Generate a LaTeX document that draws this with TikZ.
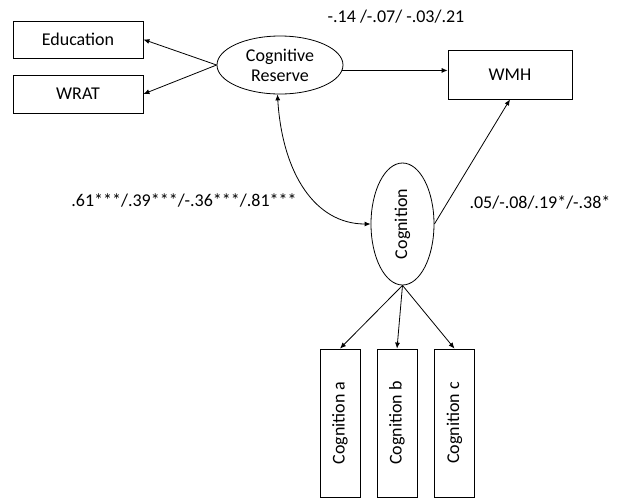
\documentclass[tikz,border=0pt]{standalone}
\usepackage{fontspec}
\setmainfont{Carlito}
\usetikzlibrary{shapes.geometric,arrows.meta}

\begin{document}
\begin{tikzpicture}[x=1pt,y=1pt,yscale=-1,xscale=1,
        every node/.style={font=\fontsize{18}{20}\selectfont},
        box/.style={draw, rectangle, line width=0.8pt, inner sep=0pt},
        latent/.style={draw, ellipse, line width=0.8pt, inner sep=0pt},
        path/.style={line width=0.8pt, -{Latex[length=6pt,width=5pt]}}]
            \useasboundingbox (0,0) rectangle (633,499);
            %Cognitive reserve and its indicators
            \node[latent, minimum width=126, minimum height=58, align=center] (cr) at (280,65) {Cognitive\\Reserve};
            \node[box, minimum width=130, minimum height=37] (edu) at (78,39.5) {Education};
            \node[box, minimum width=130, minimum height=38] (wrat) at (78,94) {WRAT};
            \draw[path] (cr.west) -- (edu.east);
            \draw[path] (cr.west) -- (wrat.east);
            %
            %Outcome
            \node[box, minimum width=124, minimum height=49] (wmh) at (510,74.5) {WMH};
            \draw[path] (cr.-5) -- (cr.-5 -| wmh.west);
            \node (crwmh) at (396,17) {-.14 /-.07/ -.03/.21};
            %
            %Cognition and its indicators
            \node[latent, minimum width=63, minimum height=122, label={[rotate=90]center:Cognition}] (cog) at (402.5,224) {};
            \draw[path] (cog.east) -- (wmh.south);
            \node (cogwmh) at (540,202) {.05/-.08/.19*/-.38*};
            \draw[path, {Latex[length=6pt,width=5pt]}-{Latex[length=6pt,width=5pt]}] (cr.265) .. controls +(5,80) and +(-55,0) .. (cog.west);
            \node (crcog) at (184,200) {.61***/.39***/-.36***/.81***};
            \foreach \n/\x in {a/340, b/397, c/454.5} {
                \node[box, minimum width=40, minimum height=148, label={[rotate=90]center:Cognition \n}] (cog\n) at (\x,423) {};
                \draw[path] (cog.south) -- (cog\n.north);
            }
        \end{tikzpicture}
\end{document}
